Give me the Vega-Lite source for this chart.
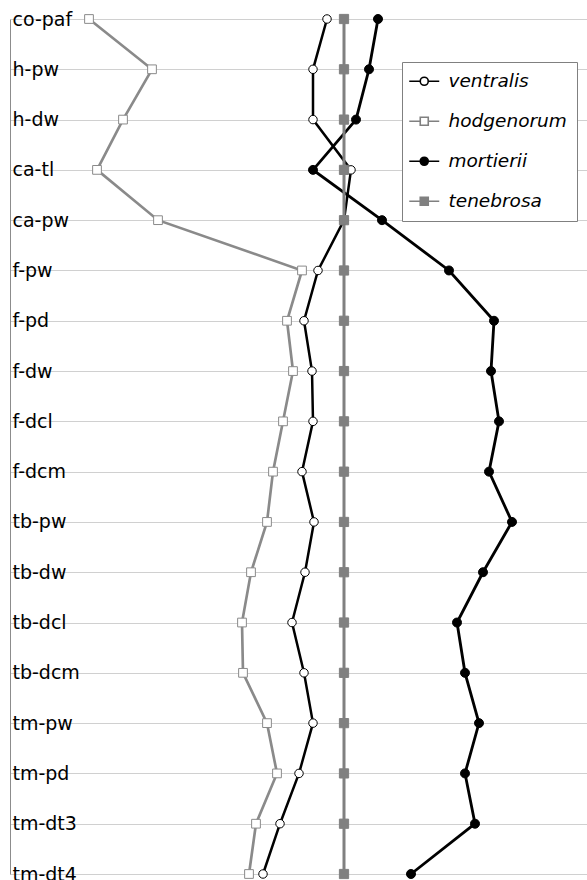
{
  "$schema": "https://vega.github.io/schema/vega-lite/v6.json",
  "width": 577,
  "height": 855,
  "autosize": {"type": "none"},
  "padding": {"left": 10, "top": 19, "right": 0, "bottom": 6},
  "background": "white",
  "config": {"view": {"stroke": null}, "font": "DejaVu Sans"},
  "data": {"values": [
    {"trait": "co-paf", "i": 1, "species": "ventralis", "v": -17},
    {"trait": "h-pw", "i": 2, "species": "ventralis", "v": -31},
    {"trait": "h-dw", "i": 3, "species": "ventralis", "v": -31},
    {"trait": "ca-tl", "i": 4, "species": "ventralis", "v": 7},
    {"trait": "ca-pw", "i": 5, "species": "ventralis", "v": 0},
    {"trait": "f-pw", "i": 6, "species": "ventralis", "v": -26},
    {"trait": "f-pd", "i": 7, "species": "ventralis", "v": -40},
    {"trait": "f-dw", "i": 8, "species": "ventralis", "v": -32},
    {"trait": "f-dcl", "i": 9, "species": "ventralis", "v": -31},
    {"trait": "f-dcm", "i": 10, "species": "ventralis", "v": -42},
    {"trait": "tb-pw", "i": 11, "species": "ventralis", "v": -30},
    {"trait": "tb-dw", "i": 12, "species": "ventralis", "v": -39},
    {"trait": "tb-dcl", "i": 13, "species": "ventralis", "v": -52},
    {"trait": "tb-dcm", "i": 14, "species": "ventralis", "v": -40},
    {"trait": "tm-pw", "i": 15, "species": "ventralis", "v": -31},
    {"trait": "tm-pd", "i": 16, "species": "ventralis", "v": -45},
    {"trait": "tm-dt3", "i": 17, "species": "ventralis", "v": -64},
    {"trait": "tm-dt4", "i": 18, "species": "ventralis", "v": -81},
    {"trait": "co-paf", "i": 1, "species": "hodgenorum", "v": -255},
    {"trait": "h-pw", "i": 2, "species": "hodgenorum", "v": -192},
    {"trait": "h-dw", "i": 3, "species": "hodgenorum", "v": -221},
    {"trait": "ca-tl", "i": 4, "species": "hodgenorum", "v": -247},
    {"trait": "ca-pw", "i": 5, "species": "hodgenorum", "v": -186},
    {"trait": "f-pw", "i": 6, "species": "hodgenorum", "v": -42},
    {"trait": "f-pd", "i": 7, "species": "hodgenorum", "v": -57},
    {"trait": "f-dw", "i": 8, "species": "hodgenorum", "v": -51},
    {"trait": "f-dcl", "i": 9, "species": "hodgenorum", "v": -61},
    {"trait": "f-dcm", "i": 10, "species": "hodgenorum", "v": -71},
    {"trait": "tb-pw", "i": 11, "species": "hodgenorum", "v": -77},
    {"trait": "tb-dw", "i": 12, "species": "hodgenorum", "v": -93},
    {"trait": "tb-dcl", "i": 13, "species": "hodgenorum", "v": -102},
    {"trait": "tb-dcm", "i": 14, "species": "hodgenorum", "v": -101},
    {"trait": "tm-pw", "i": 15, "species": "hodgenorum", "v": -77},
    {"trait": "tm-pd", "i": 16, "species": "hodgenorum", "v": -67},
    {"trait": "tm-dt3", "i": 17, "species": "hodgenorum", "v": -88},
    {"trait": "tm-dt4", "i": 18, "species": "hodgenorum", "v": -95},
    {"trait": "co-paf", "i": 1, "species": "mortierii", "v": 34},
    {"trait": "h-pw", "i": 2, "species": "mortierii", "v": 25},
    {"trait": "h-dw", "i": 3, "species": "mortierii", "v": 12},
    {"trait": "ca-tl", "i": 4, "species": "mortierii", "v": -31},
    {"trait": "ca-pw", "i": 5, "species": "mortierii", "v": 38},
    {"trait": "f-pw", "i": 6, "species": "mortierii", "v": 105},
    {"trait": "f-pd", "i": 7, "species": "mortierii", "v": 150},
    {"trait": "f-dw", "i": 8, "species": "mortierii", "v": 147},
    {"trait": "f-dcl", "i": 9, "species": "mortierii", "v": 155},
    {"trait": "f-dcm", "i": 10, "species": "mortierii", "v": 145},
    {"trait": "tb-pw", "i": 11, "species": "mortierii", "v": 168},
    {"trait": "tb-dw", "i": 12, "species": "mortierii", "v": 139},
    {"trait": "tb-dcl", "i": 13, "species": "mortierii", "v": 113},
    {"trait": "tb-dcm", "i": 14, "species": "mortierii", "v": 121},
    {"trait": "tm-pw", "i": 15, "species": "mortierii", "v": 135},
    {"trait": "tm-pd", "i": 16, "species": "mortierii", "v": 121},
    {"trait": "tm-dt3", "i": 17, "species": "mortierii", "v": 131},
    {"trait": "tm-dt4", "i": 18, "species": "mortierii", "v": 67},
    {"trait": "co-paf", "i": 1, "species": "tenebrosa", "v": 0},
    {"trait": "h-pw", "i": 2, "species": "tenebrosa", "v": 0},
    {"trait": "h-dw", "i": 3, "species": "tenebrosa", "v": 0},
    {"trait": "ca-tl", "i": 4, "species": "tenebrosa", "v": 0},
    {"trait": "ca-pw", "i": 5, "species": "tenebrosa", "v": 0},
    {"trait": "f-pw", "i": 6, "species": "tenebrosa", "v": 0},
    {"trait": "f-pd", "i": 7, "species": "tenebrosa", "v": 0},
    {"trait": "f-dw", "i": 8, "species": "tenebrosa", "v": 0},
    {"trait": "f-dcl", "i": 9, "species": "tenebrosa", "v": 0},
    {"trait": "f-dcm", "i": 10, "species": "tenebrosa", "v": 0},
    {"trait": "tb-pw", "i": 11, "species": "tenebrosa", "v": 0},
    {"trait": "tb-dw", "i": 12, "species": "tenebrosa", "v": 0},
    {"trait": "tb-dcl", "i": 13, "species": "tenebrosa", "v": 0},
    {"trait": "tb-dcm", "i": 14, "species": "tenebrosa", "v": 0},
    {"trait": "tm-pw", "i": 15, "species": "tenebrosa", "v": 0},
    {"trait": "tm-pd", "i": 16, "species": "tenebrosa", "v": 0},
    {"trait": "tm-dt3", "i": 17, "species": "tenebrosa", "v": 0},
    {"trait": "tm-dt4", "i": 18, "species": "tenebrosa", "v": 0}
  ]},
  "encoding": {
    "y": {
      "field": "trait",
      "type": "nominal",
      "sort": ["co-paf","h-pw","h-dw","ca-tl","ca-pw","f-pw","f-pd","f-dw","f-dcl","f-dcm","tb-pw","tb-dw","tb-dcl","tb-dcm","tm-pw","tm-pd","tm-dt3","tm-dt4"],
      "scale": {"type": "point", "padding": 0},
      "axis": {
        "title": null,
        "ticks": false,
        "tickSize": 0,
        "labelAlign": "left",
        "labelBaseline": "middle",
        "labelPadding": -2,
        "labelFont": "DejaVu Sans",
        "labelFontSize": 19,
        "labelColor": "black",
        "labelOverlap": false,
        "grid": true,
        "gridColor": "#d0d0d0",
        "gridWidth": 1,
        "domainColor": "#8c8c8c",
        "domainWidth": 1
      }
    },
    "x": {
      "field": "v",
      "type": "quantitative",
      "scale": {"domain": [-334, 243], "nice": false, "zero": false},
      "axis": null
    }
  },
  "resolve": {"scale": {"shape": "independent", "fill": "independent", "stroke": "independent"}},
  "layer": [
    {
      "mark": {"type": "line"},
      "encoding": {
        "color": {
          "field": "species", "type": "nominal",
          "scale": {"domain": ["tenebrosa","mortierii","hodgenorum","ventralis"], "range": ["#808080","#000000","#8a8a8a","#000000"]},
          "legend": null
        },
        "strokeWidth": {
          "field": "species", "type": "nominal",
          "scale": {"domain": ["tenebrosa","mortierii","hodgenorum","ventralis"], "range": [3, 2.5, 2, 2]},
          "legend": null
        },
        "order": {"field": "i", "type": "quantitative"}
      }
    },
    {
      "mark": {"type": "point", "filled": true, "opacity": 1, "strokeWidth": 1},
      "encoding": {
        "shape": {
          "field": "species", "type": "nominal",
          "scale": {"domain": ["tenebrosa","mortierii","hodgenorum","ventralis"], "range": ["square","circle","square","circle"]},
          "legend": null
        },
        "fill": {
          "field": "species", "type": "nominal",
          "scale": {"domain": ["tenebrosa","mortierii","hodgenorum","ventralis"], "range": ["#808080","#000000","#ffffff","#ffffff"]},
          "legend": null
        },
        "stroke": {
          "field": "species", "type": "nominal",
          "scale": {"domain": ["tenebrosa","mortierii","hodgenorum","ventralis"], "range": ["#808080","#000000","#8a8a8a","#000000"]},
          "legend": null
        },
        "size": {
          "field": "species", "type": "nominal",
          "scale": {"domain": ["tenebrosa","mortierii","hodgenorum","ventralis"], "range": [85, 72, 100, 72]},
          "legend": null
        }
      }
    },
    {
      "transform": [{"filter": "false"}],
      "mark": {"type": "point", "filled": true, "opacity": 1, "strokeWidth": 1.6},
      "encoding": {
        "shape": {
          "field": "species", "type": "nominal",
          "scale": {"domain": ["ventralis","hodgenorum","mortierii","tenebrosa"], "range": [
            "M-3.75,0H-1M1,0H3.75M-1,0A1,1,0,1,1,1,0A1,1,0,1,1,-1,0Z",
            "M-3.75,0H-1M1,0H3.75M-1,-1H1V1H-1Z",
            "M-3.75,0H-1M1,0H3.75M-1,0A1,1,0,1,1,1,0A1,1,0,1,1,-1,0Z",
            "M-3.75,0H-1M1,0H3.75M-1,-1H1V1H-1Z"
          ]},
          "legend": {
            "title": null, "orient": "none", "legendX": 392, "legendY": 43, "padding": 10,
            "strokeColor": "#808080", "fillColor": "white",
            "labelFont": "DejaVu Sans", "labelFontSize": 18.5, "labelFontStyle": "italic", "labelColor": "black",
            "rowPadding": 21, "symbolOffset": 3, "labelOffset": 15, "symbolSize": 64, "symbolStrokeWidth": 1.6
          }
        },
        "fill": {
          "field": "species", "type": "nominal",
          "scale": {"domain": ["ventralis","hodgenorum","mortierii","tenebrosa"], "range": ["#ffffff","#ffffff","#000000","#808080"]},
          "legend": {
            "title": null, "orient": "none", "legendX": 392, "legendY": 43, "padding": 10,
            "strokeColor": "#808080", "fillColor": "white",
            "labelFont": "DejaVu Sans", "labelFontSize": 18.5, "labelFontStyle": "italic", "labelColor": "black",
            "rowPadding": 21, "symbolOffset": 3, "labelOffset": 15, "symbolSize": 64, "symbolStrokeWidth": 1.6
          }
        },
        "stroke": {
          "field": "species", "type": "nominal",
          "scale": {"domain": ["ventralis","hodgenorum","mortierii","tenebrosa"], "range": ["#000000","#808080","#000000","#808080"]},
          "legend": {
            "title": null, "orient": "none", "legendX": 392, "legendY": 43, "padding": 10,
            "strokeColor": "#808080", "fillColor": "white",
            "labelFont": "DejaVu Sans", "labelFontSize": 18.5, "labelFontStyle": "italic", "labelColor": "black",
            "rowPadding": 21, "symbolOffset": 3, "labelOffset": 15, "symbolSize": 64, "symbolStrokeWidth": 1.6
          }
        }
      }
    }
  ]
}
